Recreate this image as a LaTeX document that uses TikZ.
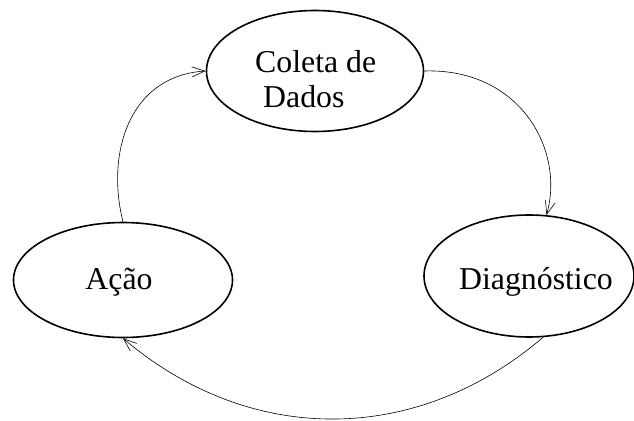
\documentclass[tikz,border=0pt]{standalone}
\usepackage{fontspec}
\setmainfont{Liberation Serif}
\usetikzlibrary{shapes.geometric,arrows.meta}
\begin{document}
\begin{tikzpicture}[x=1pt,y=-1pt,
  stage/.style={ellipse, draw, line width=1.6pt, inner sep=0pt},
  label/.style={font=\fontsize{31.8}{35}\selectfont, inner sep=0pt},
  flow/.style={line width=0.6pt, -{Straight Barb[length=13pt,width=10pt,line width=0.6pt]}}]
\useasboundingbox (0,0) rectangle (634,420);
\node[stage, minimum width=217pt, minimum height=121pt] (coleta) at (315,71) {};
\node[label, align=left, anchor=base west] (coletatxt) at (255,107) {Coleta de\\\hspace*{8pt}Dados};
\node[stage, minimum width=219pt, minimum height=115pt] (acao) at (123,280) {};
\node[label, anchor=base] (acaotxt) at (119,289) {Ação};
\node[stage, minimum width=210pt, minimum height=122pt] (diag) at (529,276) {};
\node[label, anchor=base] (diagtxt) at (536,289) {Diagnóstico};
\draw[flow] (coleta.east) .. controls (520,68) and (565,150) .. (diag.74);
\draw[flow] (diag.-77) .. controls (416,446) and (250,446) .. (acao.south);
\draw[flow] (acao.north) .. controls (106,155) and (128,76) .. (coleta.west);
\end{tikzpicture}
\end{document}
